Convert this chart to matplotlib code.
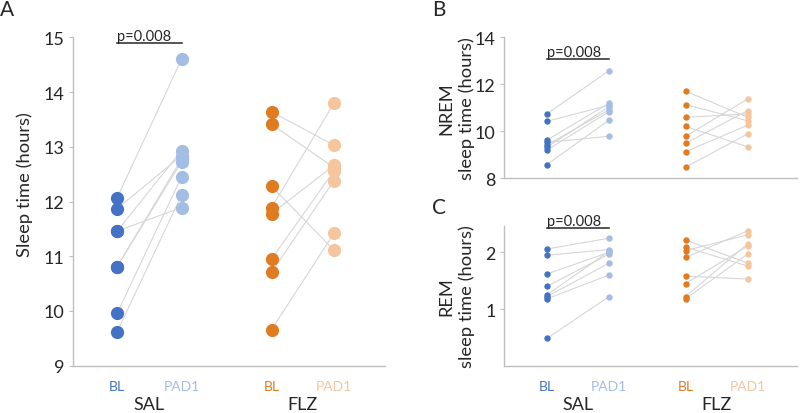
"""
Paired sleep-time dot plots (BL vs PAD1, SAL and FLZ groups), three panels.
"""
import matplotlib
matplotlib.use("Agg")
import matplotlib.pyplot as plt
from matplotlib.transforms import blended_transform_factory

plt.rcParams["font.family"] = ["Lato", "DejaVu Sans"]

# ---- data (hours), one value per animal, same order in BL and PAD1 ----
conditions = ["BL", "PAD1"]
groups = ["SAL", "FLZ"]

total_sal_bl = [12.07, 11.87, 11.46, 11.46, 10.81, 10.81, 9.96, 9.62]
total_sal_pad1 = [14.60, 12.84, 12.93, 11.89, 12.73, 12.78, 12.45, 12.12]
total_flz_bl = [13.64, 13.41, 12.28, 11.89, 11.78, 10.95, 10.71, 9.66]
total_flz_pad1 = [13.03, 12.62, 11.11, 13.80, 12.66, 12.56, 12.38, 11.42]

nrem_sal_bl = [10.73, 10.42, 9.62, 9.52, 9.41, 9.31, 9.19, 8.57]
nrem_sal_pad1 = [12.58, 11.10, 11.19, 9.78, 10.91, 11.04, 10.83, 10.47]
nrem_flz_bl = [11.70, 11.13, 10.59, 10.20, 9.78, 9.48, 9.12, 8.46]
nrem_flz_pad1 = [10.59, 10.44, 10.73, 9.33, 11.37, 10.87, 10.25, 9.88]

rem_sal_bl = [2.06, 1.95, 1.62, 1.40, 1.25, 1.22, 1.18, 0.48]
rem_sal_pad1 = [2.25, 2.05, 2.00, 1.97, 2.02, 1.81, 1.60, 1.22]
rem_flz_bl = [2.22, 2.09, 2.03, 1.91, 1.58, 1.45, 1.22, 1.18]
rem_flz_pad1 = [1.81, 1.76, 2.31, 2.38, 1.53, 2.11, 2.15, 1.97]

p_label = "p=0.008"

# ---- style ----
C_SAL = ["#4472C4", "#A3BDE5"]
C_FLZ = ["#E07B22", "#F5C69E"]
LINE_C = "#D6D6D6"
SPINE_C = "#BFBFBF"
TEXT_C = "#262626"
FIG_H = 414  # px


def draw_panel(ax, sal, flz, xpos, ms, ylim, yticks, p_y, ylabel, show_x):
    for (bl, pad), (x0, x1), cols in ((sal, xpos[:2], C_SAL), (flz, xpos[2:], C_FLZ)):
        for a, b in zip(bl, pad):
            ax.plot([x0, x1], [a, b], color=LINE_C, lw=0.8, zorder=1)
        ax.plot([x0] * len(bl), bl, "o", ms=ms, color=cols[0], mec="none", zorder=2)
        ax.plot([x1] * len(pad), pad, "o", ms=ms, color=cols[1], mec="none", zorder=2)

    # significance bar over SAL
    ax.plot(xpos[:2], [p_y, p_y], color=TEXT_C, lw=1.1, clip_on=False)
    ax.text(xpos[0], p_y, p_label, fontsize=10.5, color=TEXT_C, ha="left", va="bottom")

    ax.set_ylim(*ylim)
    ax.set_yticks(yticks)
    ax.set_xlim(xpos[0] - 0.69, xpos[-1] + 0.79)
    for s in ("top", "right"):
        ax.spines[s].set_visible(False)
    for s in ("left", "bottom"):
        ax.spines[s].set_color(SPINE_C)
        ax.spines[s].set_linewidth(1.0)
    ax.tick_params(axis="y", length=3, color=SPINE_C, labelsize=13, labelcolor=TEXT_C, pad=3)
    ax.set_ylabel(ylabel, fontsize=13.2, color=TEXT_C, labelpad=4)

    ax.set_xticks(xpos)
    if show_x:
        ax.set_xticklabels(conditions * 2, fontsize=10)
        for lab, c in zip(ax.get_xticklabels(), [C_SAL[0], C_SAL[1], C_FLZ[0], C_FLZ[1]]):
            lab.set_color(c)
        ax.tick_params(axis="x", length=0, pad=10)
        # group label sits ~38 px under the x axis
        h_px = ax.get_position().height * FIG_H
        tr = blended_transform_factory(ax.transData, ax.transAxes)
        for g, (x0, x1) in zip(groups, (xpos[:2], xpos[2:])):
            ax.text((x0 + x1) / 2, -38 / h_px, g, transform=tr,
                    ha="center", va="center", fontsize=13, color=TEXT_C)
    else:
        ax.set_xticklabels([])
        ax.tick_params(axis="x", length=0)


fig = plt.figure(figsize=(8, FIG_H / 100), dpi=100)

ax_a = fig.add_axes([0.091, 0.1143, 0.39, 0.793])
ax_b = fig.add_axes([0.630, 0.5676, 0.366, 0.340])
ax_c = fig.add_axes([0.630, 0.1143, 0.366, 0.338])

draw_panel(ax_a, (total_sal_bl, total_sal_pad1), (total_flz_bl, total_flz_pad1),
           [0, 1, 2.4, 3.37], 9.5, (9, 15), range(9, 16), 14.9,
           "Sleep time (hours)", True)
draw_panel(ax_b, (nrem_sal_bl, nrem_sal_pad1), (nrem_flz_bl, nrem_flz_pad1),
           [0, 1, 2.23, 3.23], 4.6, (8, 14), [8, 10, 12, 14], 13.06,
           "NREM\nsleep time (hours)", False)
draw_panel(ax_c, (rem_sal_bl, rem_sal_pad1), (rem_flz_bl, rem_flz_pad1),
           [0, 1, 2.23, 3.23], 4.6, (0, 2.47), [1, 2], 2.43,
           "REM\nsleep time (hours)", True)

for ax in (ax_b, ax_c):
    ax.yaxis.label.set_linespacing(1.3)
    ax.yaxis.set_label_coords(-0.10, 0.5)
ax_a.yaxis.set_label_coords(-0.128, 0.555)

fig.text(0.0, 0.975, "A", fontsize=15, color=TEXT_C, ha="left", va="center")
fig.text(0.54, 0.975, "B", fontsize=15, color=TEXT_C, ha="left", va="center")
fig.text(0.54, 0.497, "C", fontsize=15, color=TEXT_C, ha="left", va="center")

fig.savefig("out.png", dpi=100)
plt.close(fig)
